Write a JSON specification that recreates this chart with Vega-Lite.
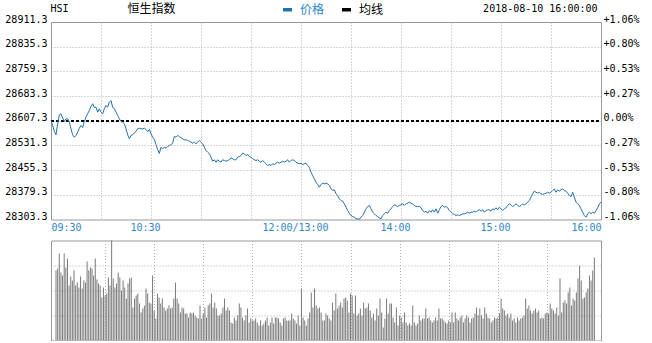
{
"$schema": "https://vega.github.io/schema/vega-lite/v6.json",
"background": "white",
"padding": {"left": 4, "top": 2, "right": 0, "bottom": 0},
"bounds": "flush",
"spacing": 20.5,
"config": {"view": {"stroke": "#999999", "strokeWidth": 1}, "axis": {"labelFont": "DejaVu Sans Mono", "labelFontSize": 10, "titleFontWeight": "normal"}},
"datasets": {"d": [
{"m":0,"p":28608.1,"v":70},{"m":1,"p":28592.7,"v":72},{"m":2,"p":28574.2,"v":87},{"m":3,"p":28564.0,"v":68},{"m":4,"p":28597.9,"v":65},{"m":5,"p":28625.6,"v":87},{"m":6,"p":28628.7,"v":73},{"m":7,"p":28615.8,"v":82},{"m":8,"p":28605.0,"v":55},{"m":9,"p":28613.3,"v":64},
{"m":10,"p":28613.3,"v":60},{"m":11,"p":28602.8,"v":70},{"m":12,"p":28582.5,"v":55},{"m":13,"p":28564.0,"v":58},{"m":14,"p":28556.7,"v":53},{"m":15,"p":28561.9,"v":64},{"m":16,"p":28572.1,"v":52},{"m":17,"p":28584.4,"v":60},{"m":18,"p":28592.7,"v":58},{"m":19,"p":28586.5,"v":79},
{"m":20,"p":28605.0,"v":70},{"m":21,"p":28618.8,"v":73},{"m":22,"p":28629.6,"v":72},{"m":23,"p":28638.9,"v":65},{"m":24,"p":28651.2,"v":82},{"m":25,"p":28659.5,"v":61},{"m":26,"p":28648.1,"v":57},{"m":27,"p":28649.0,"v":55},{"m":28,"p":28633.6,"v":43},{"m":29,"p":28644.1,"v":53},
{"m":30,"p":28633.6,"v":45},{"m":31,"p":28628.7,"v":47},{"m":32,"p":28644.1,"v":63},{"m":33,"p":28654.2,"v":55},{"m":34,"p":28649.0,"v":100},{"m":35,"p":28664.4,"v":62},{"m":36,"p":28669.6,"v":53},{"m":37,"p":28648.1,"v":57},{"m":38,"p":28645.0,"v":68},{"m":39,"p":28633.6,"v":63},
{"m":40,"p":28623.5,"v":50},{"m":41,"p":28613.3,"v":60},{"m":42,"p":28605.0,"v":53},{"m":43,"p":28602.8,"v":42},{"m":44,"p":28597.9,"v":57},{"m":45,"p":28582.5,"v":62},{"m":46,"p":28564.0,"v":63},{"m":47,"p":28551.7,"v":33},{"m":48,"p":28561.9,"v":42},{"m":49,"p":28564.0,"v":45},
{"m":50,"p":28570.2,"v":47},{"m":51,"p":28574.2,"v":37},{"m":52,"p":28582.5,"v":28},{"m":53,"p":28584.4,"v":32},{"m":54,"p":28582.5,"v":35},{"m":55,"p":28582.5,"v":52},{"m":56,"p":28584.4,"v":47},{"m":57,"p":28580.4,"v":38},{"m":58,"p":28574.2,"v":37},{"m":59,"p":28580.4,"v":65},
{"m":60,"p":28567.1,"v":30},{"m":61,"p":28556.7,"v":22},{"m":62,"p":28549.6,"v":47},{"m":63,"p":28534.2,"v":43},{"m":64,"p":28518.8,"v":37},{"m":65,"p":28506.5,"v":42},{"m":66,"p":28525.9,"v":33},{"m":67,"p":28521.0,"v":30},{"m":68,"p":28525.9,"v":32},{"m":69,"p":28522.8,"v":35},
{"m":70,"p":28528.0,"v":32},{"m":71,"p":28531.1,"v":33},{"m":72,"p":28534.2,"v":42},{"m":73,"p":28538.2,"v":58},{"m":74,"p":28558.8,"v":42},{"m":75,"p":28556.7,"v":37},{"m":76,"p":28561.9,"v":28},{"m":77,"p":28558.8,"v":33},{"m":78,"p":28554.8,"v":32},{"m":79,"p":28551.7,"v":27},
{"m":80,"p":28548.7,"v":27},{"m":81,"p":28548.7,"v":23},{"m":82,"p":28546.5,"v":28},{"m":83,"p":28544.3,"v":27},{"m":84,"p":28541.3,"v":28},{"m":85,"p":28538.2,"v":25},{"m":86,"p":28541.3,"v":23},{"m":87,"p":28536.3,"v":22},{"m":88,"p":28541.3,"v":35},{"m":89,"p":28546.5,"v":22},
{"m":90,"p":28541.3,"v":27},{"m":91,"p":28536.3,"v":33},{"m":92,"p":28525.9,"v":23},{"m":93,"p":28515.7,"v":35},{"m":94,"p":28510.5,"v":37},{"m":95,"p":28505.6,"v":47},{"m":96,"p":28495.1,"v":33},{"m":97,"p":28482.8,"v":38},{"m":98,"p":28487.1,"v":32},{"m":99,"p":28479.7,"v":25},
{"m":100,"p":28487.1,"v":25},{"m":101,"p":28482.8,"v":27},{"m":102,"p":28479.7,"v":33},{"m":103,"p":28487.1,"v":42},{"m":104,"p":28484.9,"v":30},{"m":105,"p":28482.8,"v":33},{"m":106,"p":28484.9,"v":30},{"m":107,"p":28487.1,"v":18},{"m":108,"p":28493.2,"v":17},{"m":109,"p":28490.2,"v":23},
{"m":110,"p":28487.1,"v":20},{"m":111,"p":28487.1,"v":25},{"m":112,"p":28495.1,"v":37},{"m":113,"p":28497.2,"v":33},{"m":114,"p":28500.3,"v":23},{"m":115,"p":28507.4,"v":20},{"m":116,"p":28505.6,"v":25},{"m":117,"p":28500.3,"v":32},{"m":118,"p":28503.4,"v":18},{"m":119,"p":28497.2,"v":22},
{"m":120,"p":28495.1,"v":20},{"m":121,"p":28490.2,"v":20},{"m":122,"p":28487.1,"v":22},{"m":123,"p":28484.9,"v":18},{"m":124,"p":28487.1,"v":15},{"m":125,"p":28482.8,"v":20},{"m":126,"p":28479.7,"v":15},{"m":127,"p":28484.9,"v":17},{"m":128,"p":28479.7,"v":20},{"m":129,"p":28474.8,"v":23},
{"m":130,"p":28469.5,"v":15},{"m":131,"p":28472.6,"v":18},{"m":132,"p":28469.5,"v":23},{"m":133,"p":28474.8,"v":17},{"m":134,"p":28472.6,"v":23},{"m":135,"p":28476.6,"v":23},{"m":136,"p":28479.7,"v":22},{"m":137,"p":28476.6,"v":18},{"m":138,"p":28479.7,"v":15},{"m":139,"p":28482.8,"v":22},
{"m":140,"p":28479.7,"v":23},{"m":141,"p":28482.8,"v":20},{"m":142,"p":28487.1,"v":20},{"m":143,"p":28479.7,"v":20},{"m":144,"p":28484.9,"v":27},{"m":145,"p":28487.1,"v":22},{"m":146,"p":28484.9,"v":20},{"m":147,"p":28479.7,"v":17},{"m":148,"p":28476.6,"v":25},{"m":149,"p":28474.8,"v":15},
{"m":150,"p":28476.6,"v":52},{"m":151,"p":28472.6,"v":23},{"m":152,"p":28474.8,"v":20},{"m":153,"p":28476.6,"v":15},{"m":154,"p":28469.5,"v":22},{"m":155,"p":28464.3,"v":28},{"m":156,"p":28448.9,"v":48},{"m":157,"p":28438.8,"v":33},{"m":158,"p":28428.6,"v":52},{"m":159,"p":28418.1,"v":35},
{"m":160,"p":28411.1,"v":32},{"m":161,"p":28402.7,"v":33},{"m":162,"p":28411.1,"v":28},{"m":163,"p":28415.1,"v":20},{"m":164,"p":28413.2,"v":20},{"m":165,"p":28415.1,"v":27},{"m":166,"p":28413.2,"v":25},{"m":167,"p":28408.0,"v":22},{"m":168,"p":28397.8,"v":20},{"m":169,"p":28392.6,"v":38},
{"m":170,"p":28394.7,"v":30},{"m":171,"p":28382.4,"v":47},{"m":172,"p":28377.2,"v":32},{"m":173,"p":28367.0,"v":35},{"m":174,"p":28361.8,"v":38},{"m":175,"p":28359.6,"v":33},{"m":176,"p":28351.6,"v":42},{"m":177,"p":28341.2,"v":43},{"m":178,"p":28331.0,"v":40},{"m":179,"p":28322.7,"v":28},
{"m":180,"p":28315.6,"v":47},{"m":181,"p":28312.5,"v":45},{"m":182,"p":28310.4,"v":27},{"m":183,"p":28305.5,"v":45},{"m":184,"p":28305.5,"v":25},{"m":185,"p":28304.0,"v":27},{"m":186,"p":28310.4,"v":32},{"m":187,"p":28315.6,"v":25},{"m":188,"p":28325.8,"v":38},{"m":189,"p":28336.2,"v":32},
{"m":190,"p":28343.3,"v":33},{"m":191,"p":28346.4,"v":37},{"m":192,"p":28336.2,"v":30},{"m":193,"p":28325.8,"v":23},{"m":194,"p":28320.9,"v":27},{"m":195,"p":28315.6,"v":20},{"m":196,"p":28312.5,"v":32},{"m":197,"p":28308.5,"v":25},{"m":198,"p":28305.5,"v":42},{"m":199,"p":28315.6,"v":28},
{"m":200,"p":28320.9,"v":13},{"m":201,"p":28325.8,"v":22},{"m":202,"p":28322.7,"v":42},{"m":203,"p":28331.0,"v":27},{"m":204,"p":28336.2,"v":37},{"m":205,"p":28343.3,"v":37},{"m":206,"p":28348.6,"v":23},{"m":207,"p":28346.4,"v":18},{"m":208,"p":28343.3,"v":33},{"m":209,"p":28346.4,"v":15},
{"m":210,"p":28348.6,"v":25},{"m":211,"p":28351.6,"v":23},{"m":212,"p":28346.4,"v":18},{"m":213,"p":28351.6,"v":28},{"m":214,"p":28353.5,"v":18},{"m":215,"p":28356.6,"v":15},{"m":216,"p":28353.5,"v":17},{"m":217,"p":28351.6,"v":15},{"m":218,"p":28346.4,"v":35},{"m":219,"p":28343.3,"v":18},
{"m":220,"p":28343.3,"v":15},{"m":221,"p":28343.3,"v":17},{"m":222,"p":28339.3,"v":25},{"m":223,"p":28331.0,"v":20},{"m":224,"p":28325.8,"v":22},{"m":225,"p":28328.9,"v":22},{"m":226,"p":28322.7,"v":32},{"m":227,"p":28331.0,"v":22},{"m":228,"p":28325.8,"v":23},{"m":229,"p":28333.2,"v":20},
{"m":230,"p":28325.8,"v":18},{"m":231,"p":28336.2,"v":20},{"m":232,"p":28322.7,"v":23},{"m":233,"p":28333.2,"v":20},{"m":234,"p":28343.3,"v":32},{"m":235,"p":28346.4,"v":22},{"m":236,"p":28341.2,"v":22},{"m":237,"p":28343.3,"v":20},{"m":238,"p":28339.3,"v":18},{"m":239,"p":28331.0,"v":17},
{"m":240,"p":28325.8,"v":20},{"m":241,"p":28320.9,"v":18},{"m":242,"p":28318.7,"v":28},{"m":243,"p":28315.6,"v":18},{"m":244,"p":28317.8,"v":28},{"m":245,"p":28315.6,"v":22},{"m":246,"p":28317.8,"v":20},{"m":247,"p":28320.9,"v":23},{"m":248,"p":28320.9,"v":25},{"m":249,"p":28322.7,"v":18},
{"m":250,"p":28325.8,"v":22},{"m":251,"p":28322.7,"v":25},{"m":252,"p":28325.8,"v":23},{"m":253,"p":28325.8,"v":18},{"m":254,"p":28328.9,"v":22},{"m":255,"p":28325.8,"v":23},{"m":256,"p":28331.0,"v":27},{"m":257,"p":28333.2,"v":33},{"m":258,"p":28328.9,"v":25},{"m":259,"p":28333.2,"v":32},
{"m":260,"p":28325.8,"v":25},{"m":261,"p":28331.0,"v":22},{"m":262,"p":28333.2,"v":33},{"m":263,"p":28333.2,"v":27},{"m":264,"p":28328.9,"v":23},{"m":265,"p":28336.2,"v":22},{"m":266,"p":28333.2,"v":18},{"m":267,"p":28339.3,"v":20},{"m":268,"p":28333.2,"v":23},{"m":269,"p":28341.2,"v":22},
{"m":270,"p":28336.2,"v":23},{"m":271,"p":28331.0,"v":27},{"m":272,"p":28336.2,"v":42},{"m":273,"p":28339.3,"v":32},{"m":274,"p":28346.4,"v":30},{"m":275,"p":28351.6,"v":25},{"m":276,"p":28348.6,"v":27},{"m":277,"p":28343.3,"v":23},{"m":278,"p":28346.4,"v":27},{"m":279,"p":28351.6,"v":20},
{"m":280,"p":28346.4,"v":22},{"m":281,"p":28343.3,"v":18},{"m":282,"p":28346.4,"v":23},{"m":283,"p":28351.6,"v":20},{"m":284,"p":28348.6,"v":22},{"m":285,"p":28351.6,"v":23},{"m":286,"p":28356.6,"v":25},{"m":287,"p":28361.8,"v":42},{"m":288,"p":28372.0,"v":32},{"m":289,"p":28382.4,"v":35},
{"m":290,"p":28390.4,"v":30},{"m":291,"p":28387.3,"v":27},{"m":292,"p":28384.3,"v":30},{"m":293,"p":28387.3,"v":32},{"m":294,"p":28382.4,"v":28},{"m":295,"p":28380.3,"v":30},{"m":296,"p":28382.4,"v":22},{"m":297,"p":28384.3,"v":23},{"m":298,"p":28387.3,"v":22},{"m":299,"p":28384.3,"v":27},
{"m":300,"p":28387.3,"v":28},{"m":301,"p":28392.6,"v":27},{"m":302,"p":28397.8,"v":37},{"m":303,"p":28387.3,"v":32},{"m":304,"p":28394.7,"v":30},{"m":305,"p":28390.4,"v":27},{"m":306,"p":28394.7,"v":33},{"m":307,"p":28397.8,"v":25},{"m":308,"p":28392.6,"v":62},{"m":309,"p":28390.4,"v":28},
{"m":310,"p":28384.3,"v":38},{"m":311,"p":28377.2,"v":40},{"m":312,"p":28374.1,"v":37},{"m":313,"p":28387.3,"v":48},{"m":314,"p":28372.0,"v":53},{"m":315,"p":28356.6,"v":35},{"m":316,"p":28351.6,"v":42},{"m":317,"p":28346.4,"v":40},{"m":318,"p":28336.2,"v":48},{"m":319,"p":28325.8,"v":62},
{"m":320,"p":28315.6,"v":75},{"m":321,"p":28310.4,"v":60},{"m":322,"p":28320.9,"v":42},{"m":323,"p":28325.8,"v":43},{"m":324,"p":28320.9,"v":48},{"m":325,"p":28325.8,"v":52},{"m":326,"p":28322.7,"v":65},{"m":327,"p":28331.0,"v":60},{"m":328,"p":28339.3,"v":70},{"m":329,"p":28351.6,"v":83},
{"m":330,"p":28356.6,"v":null}
]},
"vconcat": [
{
"width": 550,
"height": 197.5,
"data": {"name": "d"},
"layer": [
{
"mark": {"type": "rule", "color": "#000000", "strokeWidth": 1, "strokeDash": [3, 2]},
"encoding": {
"x": {"datum": 0, "type": "quantitative", "scale": {"domain": [0, 330], "nice": false, "zero": false},
"axis": {"orient": "top", "labels": false, "ticks": false, "domain": false, "grid": false, "title": "恒生指数", "titleX": 76, "titleY": -13.5, "titleAlign": "left", "titleBaseline": "middle", "titleAngle": 0, "titleFont": "Noto Sans CJK SC", "titleFontSize": 12, "titleFontWeight": "normal", "titleColor": "#000000", "titlePadding": 0}},
"x2": {"datum": 330},
"y": {"datum": 28607.3, "type": "quantitative",
"axis": {"orient": "right", "values": [28303.3, 28379.3, 28455.3, 28531.3, 28607.3, 28683.3, 28759.3, 28835.3, 28911.3],
"labelExpr": "(datum.value > 28607.4 ? '+' : datum.value < 28607.2 ? '-' : '') + format(abs(datum.value - 28607.3) / 28607.3 * 100, '.2f') + '%'",
"grid": false, "ticks": false, "domain": false, "labelPadding": 2, "labelOffset": -3, "labelFlush": false, "labelOverlap": false, "labelBound": false,
"encode": {"labels": {"update": {"fill": {"signal": "datum.value > 28607.4 ? '#1a8c1a' : datum.value < 28607.2 ? '#cc0000' : '#000000'"}}}},
"title": "2018-08-10 16:00:00", "titleAngle": 0, "titleX": -4, "titleY": -13.5, "titleAlign": "right", "titleBaseline": "middle", "titleFont": "DejaVu Sans Mono", "titleFontSize": 10, "titleFontWeight": "normal", "titleColor": "#000000", "titlePadding": 0}}
}
},
{
"mark": {"type": "line", "strokeWidth": 1, "interpolate": "linear"},
"encoding": {
"x": {"field": "m", "type": "quantitative", "scale": {"domain": [0, 330], "nice": false, "zero": false},
"axis": {"orient": "bottom", "values": [0, 30, 60, 90, 120, 150, 180, 210, 240, 270, 300, 330],
"labelExpr": "datum.value == 0 ? '09:30' : datum.value == 60 ? '10:30' : datum.value == 150 ? '12:00/13:00' : datum.value == 210 ? '14:00' : datum.value == 270 ? '15:00' : datum.value == 330 ? '16:00' : ''",
"grid": true, "gridDash": [1, 2], "gridColor": "#b0b0b0",
"gridOpacity": {"condition": {"test": "datum.value == 0 || datum.value == 330", "value": 0}, "value": 1},
"labelOffset": {"condition": {"test": "datum.value == 0 || datum.value == 330", "value": 0}, "value": -6},
"ticks": false, "domain": false, "labelFlush": true, "labelOverlap": false, "labelPadding": 3, "labelColor": "#2f86c6",
"title": null}},
"y": {"field": "p", "type": "quantitative", "scale": {"domain": [28303.3, 28911.3], "nice": false, "zero": false},
"axis": {"orient": "left", "values": [28303.3, 28379.3, 28455.3, 28531.3, 28607.3, 28683.3, 28759.3, 28835.3, 28911.3],
"labelExpr": "format(datum.value, '.1f')",
"grid": true, "gridDash": [1, 2], "gridColor": "#b0b0b0",
"gridOpacity": {"condition": {"test": "datum.value < 28303.4 || datum.value > 28911.2", "value": 0}, "value": 1},
"ticks": false, "domain": false, "labelPadding": 4, "labelOffset": -3, "labelFlush": false, "labelOverlap": false, "labelBound": false,
"encode": {"labels": {"update": {"fill": {"signal": "datum.value > 28607.4 ? '#1a8c1a' : datum.value < 28607.2 ? '#cc0000' : '#000000'"}}}},
"title": "HSI", "titleAngle": 0, "titleX": -1, "titleY": -13.5, "titleAlign": "left", "titleBaseline": "middle", "titleFont": "DejaVu Sans Mono", "titleFontSize": 10, "titleFontWeight": "normal", "titleColor": "#000000", "titlePadding": 0}},
"color": {"datum": "价格", "type": "nominal",
"scale": {"domain": ["价格", "均线"], "range": ["#2270ad", "#000000"]},
"legend": {"orient": "none", "legendX": 230, "legendY": -19, "direction": "horizontal", "title": null,
"symbolType": "stroke", "symbolSize": 81, "symbolStrokeWidth": 3.5, "labelFont": "Noto Sans CJK SC", "labelFontSize": 12, "labelOffset": 6, "columnPadding": 10, "padding": 0,
"encode": {"labels": {"update": {"fill": {"signal": "datum.value === '价格' ? '#2f86c6' : '#000000'"}}}}}}
}
}
],
"resolve": {"axis": {"x": "independent", "y": "independent"}}
},
{
"width": 550,
"height": 100,
"data": {"name": "d"},
"mark": {"type": "bar", "size": 1, "color": "#7a7a7a"},
"encoding": {
"x": {"field": "m", "type": "quantitative", "scale": {"domain": [0, 330], "nice": false, "zero": false},
"axis": {"values": [30, 60, 90, 120, 150, 180, 210, 240, 270, 300], "labels": false, "ticks": false, "domain": false, "grid": true, "gridDash": [1, 2], "gridColor": "#b0b0b0", "title": null}},
"y": {"field": "v", "type": "quantitative", "scale": {"domain": [0, 100], "nice": false},
"axis": {"values": [25, 50, 75], "labels": false, "ticks": false, "domain": false, "grid": true, "gridDash": [1, 2], "gridColor": "#b0b0b0", "title": null}}
}
}
]
}
